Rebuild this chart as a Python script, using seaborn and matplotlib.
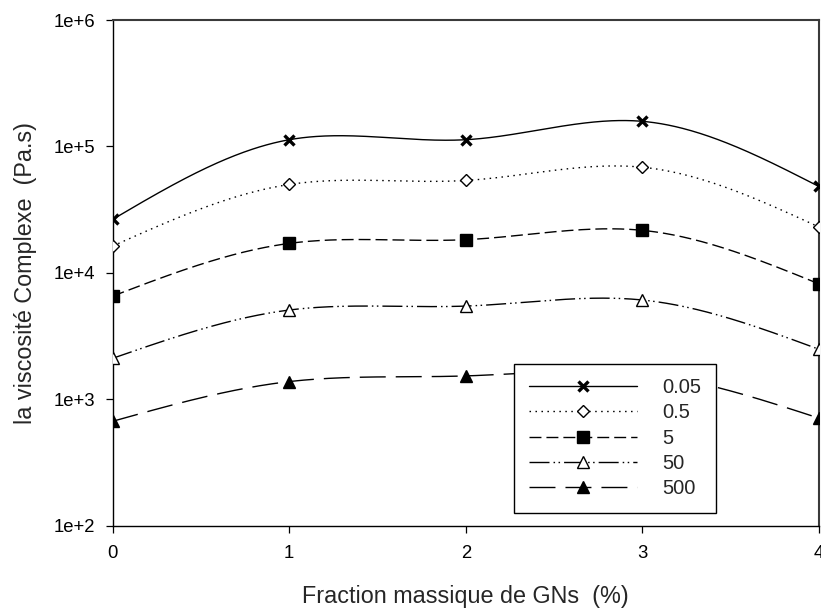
import numpy as np
import pandas as pd
import matplotlib
matplotlib.use("Agg")
import matplotlib.pyplot as plt
from matplotlib.lines import Line2D
from matplotlib.ticker import FixedLocator, FuncFormatter, NullLocator
import seaborn as sns

# ---- data ----
fractions = [0, 1, 2, 3, 4]
series_labels = ["0.05", "0.5", "5", "50", "500"]
visc_005 = [2.65e4, 1.13e5, 1.13e5, 1.58e5, 4.83e4]
visc_05 = [1.63e4, 5.0e4, 5.38e4, 6.85e4, 2.31e4]
visc_5 = [6.55e3, 1.71e4, 1.83e4, 2.17e4, 8.2e3]
visc_50 = [2.11e3, 5.08e3, 5.46e3, 6.1e3, 2.49e3]
visc_500 = [6.7e2, 1.38e3, 1.53e3, 1.6e3, 7.1e2]
y_ticks = [1e2, 1e3, 1e4, 1e5, 1e6]
x_ticks = [0, 1, 2, 3, 4]

values = [visc_005, visc_05, visc_5, visc_50, visc_500]

# ---- styles ----
markers = ["x", "D", "s", "^", "^"]
face = ["black", "white", "black", "white", "black"]
msizes = [7.5, 6.5, 8.0, 9.0, 9.0]
mews = [2.4, 1.0, 1.0, 1.0, 1.0]
dashes = [None, (1.1, 3.2), (8.6, 3.6), (14.4, 2.9, 1.1, 2.5, 1.1, 2.9), (18.7, 7.2)]


def natural_spline(x, y, xs):
    x = np.asarray(x, float)
    y = np.asarray(y, float)
    n = len(x)
    h = np.diff(x)
    A = np.zeros((n, n))
    b = np.zeros(n)
    A[0, 0] = 1
    A[-1, -1] = 1
    for i in range(1, n - 1):
        A[i, i - 1] = h[i - 1]
        A[i, i] = 2 * (h[i - 1] + h[i])
        A[i, i + 1] = h[i]
        b[i] = 3 * ((y[i + 1] - y[i]) / h[i] - (y[i] - y[i - 1]) / h[i - 1])
    c = np.linalg.solve(A, b)
    out = np.empty_like(xs, dtype=float)
    for j, xv in enumerate(xs):
        i = min(max(np.searchsorted(x, xv) - 1, 0), n - 2)
        t = xv - x[i]
        bi = (y[i + 1] - y[i]) / h[i] - h[i] * (2 * c[i] + c[i + 1]) / 3
        di = (c[i + 1] - c[i]) / (3 * h[i])
        out[j] = y[i] + bi * t + c[i] * t ** 2 + di * t ** 3
    return out


sns.set_style("ticks")
plt.rcParams["font.family"] = ["Liberation Sans", "DejaVu Sans"]

fig = plt.figure(figsize=(8.21, 6.10), dpi=100)
ax = fig.add_axes([0.1373, 0.1382, 0.8599, 0.8290])

xs = np.linspace(fractions[0], fractions[-1], 400)
handles = []
for k, (lab, vals) in enumerate(zip(series_labels, values)):
    ys = 10 ** natural_spline(fractions, np.log10(vals), xs)
    smooth = pd.DataFrame({"x": xs, "y": ys})
    pts = pd.DataFrame({"x": fractions, "y": vals})
    sns.lineplot(data=smooth, x="x", y="y", ax=ax, color="black", lw=1.0,
                 estimator=None, sort=False, zorder=2)
    line = ax.get_lines()[-1]
    if dashes[k] is not None:
        line.set_dashes(dashes[k])
    sns.lineplot(data=pts, x="x", y="y", ax=ax, lw=0, marker=markers[k],
                 markersize=msizes[k], markerfacecolor=face[k],
                 markeredgecolor="black", markeredgewidth=mews[k],
                 color="black", estimator=None, zorder=3)
    h = Line2D([], [], color="black", lw=1.0, marker=markers[k],
               markersize=msizes[k], markerfacecolor=face[k],
               markeredgecolor="black", markeredgewidth=mews[k])
    if dashes[k] is not None:
        h.set_dashes(dashes[k])
    handles.append(h)

ax.set_yscale("log")
ax.set_xlim(0, 4)
ax.set_ylim(1e2, 1e6)
ax.xaxis.set_major_locator(FixedLocator(x_ticks))
ax.yaxis.set_major_locator(FixedLocator(y_ticks))
ax.yaxis.set_minor_locator(NullLocator())
ax.yaxis.set_major_formatter(FuncFormatter(lambda v, p: f"1e+{int(round(np.log10(v)))}"))
ax.xaxis.set_major_formatter(FuncFormatter(lambda v, p: f"{int(v)}"))

ax.tick_params(axis="both", direction="out", length=5.2, width=0.9,
               colors="black", labelsize=13.3)
ax.tick_params(axis="y", pad=7.5)
ax.tick_params(axis="x", pad=9)

for s in ["left", "bottom"]:
    ax.spines[s].set_color("black")
    ax.spines[s].set_linewidth(1.0)
for s in ["top", "right"]:
    ax.spines[s].set_visible(True)
    ax.spines[s].set_color("#3a3a3a")
    ax.spines[s].set_linewidth(1.5)

ax.set_xlabel("Fraction massique de GNs  (%)", fontsize=16.8, labelpad=16)
ax.set_ylabel("la viscosité Complexe  (Pa.s)", fontsize=16.8, labelpad=12)

leg = ax.legend(handles, series_labels, loc="lower left",
                bbox_to_anchor=(0.5684, 0.0257), borderaxespad=0,
                fontsize=14.5, frameon=True, fancybox=False, shadow=False,
                handlelength=5.4, handletextpad=1.25, borderpad=0.72,
                labelspacing=0.31, numpoints=1)
leg.get_frame().set_edgecolor("black")
leg.get_frame().set_linewidth(1.0)
leg.get_frame().set_alpha(1)

fig.savefig("out.png", dpi=100)
